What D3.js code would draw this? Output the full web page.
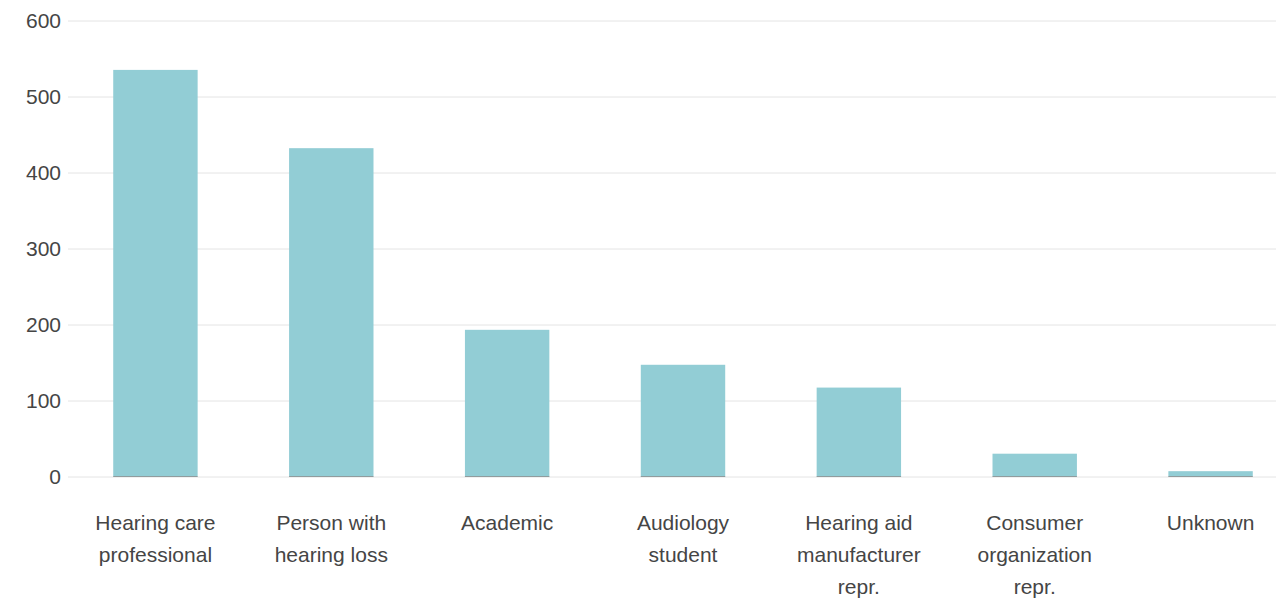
<!DOCTYPE html>
<html>
<head>
<meta charset="utf-8">
<script src="https://cdn.jsdelivr.net/npm/d3@7"></script>
<style>
  html, body { margin: 0; padding: 0; background: #fff; }
  svg { display: block; font-family: "Liberation Sans", Arial, Helvetica, sans-serif; }
</style>
</head>
<body>
<svg id="chart" width="1284" height="599"></svg>
<script>
const categories = [
  "Hearing care professional",
  "Person with hearing loss",
  "Academic",
  "Audiology student",
  "Hearing aid manufacturer repr.",
  "Consumer organization repr.",
  "Unknown"
];
const categoryLines = [
  ["Hearing care", "professional"],
  ["Person with", "hearing loss"],
  ["Academic"],
  ["Audiology", "student"],
  ["Hearing aid", "manufacturer", "repr."],
  ["Consumer", "organization", "repr."],
  ["Unknown"]
];
const values = [535, 432, 193, 147, 117, 30, 7];
const yTicks = [0, 100, 200, 300, 400, 500, 600];

const svg = d3.select("#chart");
const gridLeft = 68, gridRight = 1276;
const plotTop = 20.5, plotBottom = 476.5;

const x = d3.scaleBand()
  .domain(categories)
  .range([67.5, 1298.5])
  .paddingInner(0.52)
  .paddingOuter(0.26);

const y = d3.scaleLinear().domain([0, 600]).range([plotBottom, plotTop]);

// gridlines
const yAxis = d3.axisLeft(y).tickValues(yTicks).tickSize(-(gridRight - gridLeft)).tickPadding(8);
const gy = svg.append("g").attr("transform", `translate(${gridLeft},0)`).call(yAxis);
gy.select(".domain").remove();
gy.selectAll(".tick line").attr("stroke", "#e4e4e4").attr("stroke-width", 1);
gy.selectAll(".tick text")
  .attr("fill", "#454545")
  .attr("font-size", 21)
  .attr("x", -7)
  .attr("font-family", "'Liberation Sans', Arial, sans-serif");

// bars
svg.append("g").selectAll("rect")
  .data(values)
  .join("rect")
  .attr("x", (d, i) => x(categories[i]))
  .attr("y", d => y(d))
  .attr("width", x.bandwidth())
  .attr("height", d => y(0) - y(d))
  .attr("fill", "#92cdd5");

// bar baseline
svg.append("g").selectAll("line")
  .data(values)
  .join("line")
  .attr("x1", (d, i) => x(categories[i]))
  .attr("x2", (d, i) => x(categories[i]) + x.bandwidth())
  .attr("y1", y(0))
  .attr("y2", y(0))
  .attr("stroke", "#909c9e")
  .attr("stroke-width", 1);

// x labels
const xAxis = d3.axisBottom(x).tickSize(0).tickFormat(() => "");
const gx = svg.append("g").attr("transform", `translate(0,${plotBottom})`).call(xAxis);
gx.select(".domain").remove();
gx.selectAll(".tick").each(function(d, i) {
  const t = d3.select(this).append("text")
    .attr("text-anchor", "middle")
    .attr("fill", "#454545")
    .attr("font-size", 21)
    .attr("font-family", "'Liberation Sans', Arial, sans-serif");
  categoryLines[i].forEach((line, j) => {
    t.append("tspan").attr("x", 0).attr("y", 53 + j * 32).text(line);
  });
});
</script>
</body>
</html>
